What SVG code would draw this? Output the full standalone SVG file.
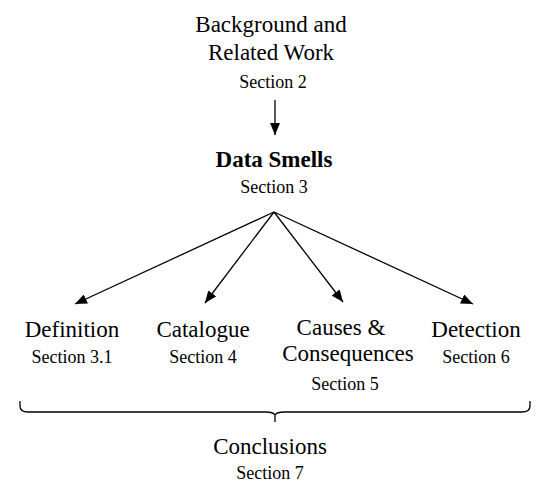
<svg xmlns="http://www.w3.org/2000/svg" width="540" height="492" viewBox="0 0 540 492">
<defs>
<style>
.t{font-size:23px}
.b{font-size:23px;font-weight:bold}
.s{font-size:18px}
.c{stroke:#000;stroke-width:1.3;fill:none}
</style>
<marker id="ah" viewBox="0 0 12 10" refX="12" refY="5" markerWidth="12" markerHeight="10" markerUnits="userSpaceOnUse" orient="auto">
<path d="M0,0 L12,5 L0,10 Z" fill="#000"/>
</marker>
</defs>
<rect width="540" height="492" fill="#fff"/>
<g font-family="Liberation Serif, Times New Roman, DejaVu Serif, serif" text-anchor="middle" fill="#000">
<g id="background">
<text class="t" x="271" y="32">Background and</text>
<text class="t" x="271" y="60">Related Work</text>
<text class="s" x="273" y="88">Section 2</text>
</g>
<g id="datasmells">
<text class="b" x="274" y="167">Data Smells</text>
<text class="s" x="274" y="193">Section 3</text>
</g>
<g id="definition">
<text class="t" x="72" y="337">Definition</text>
<text class="s" x="72" y="363">Section 3.1</text>
</g>
<g id="catalogue">
<text class="t" x="203" y="337">Catalogue</text>
<text class="s" x="203" y="363">Section 4</text>
</g>
<g id="causes">
<text class="t" x="341" y="335">Causes &amp;</text>
<text class="t" x="348" y="361">Consequences</text>
<text class="s" x="345" y="390">Section 5</text>
</g>
<g id="detection">
<text class="t" x="476" y="337">Detection</text>
<text class="s" x="476" y="363">Section 6</text>
</g>
<g id="conclusions">
<text class="t" x="270" y="454">Conclusions</text>
<text class="s" x="270" y="479">Section 7</text>
</g>
</g>
<g id="connectors">
<line class="c" x1="275" y1="100" x2="275" y2="135" marker-end="url(#ah)"/>
<line class="c" x1="274" y1="212" x2="75" y2="304" marker-end="url(#ah)"/>
<line class="c" x1="274" y1="212" x2="205" y2="303" marker-end="url(#ah)"/>
<line class="c" x1="274" y1="212" x2="343" y2="302" marker-end="url(#ah)"/>
<line class="c" x1="274" y1="212" x2="473" y2="304" marker-end="url(#ah)"/>
<path class="c" d="M20,401 V406 Q20,412 28,412 H266 Q273,412 275,415 Q277,412 284,412 H522 Q530,412 530,406 V401 M275,414 V422"/>
</g>
</svg>
